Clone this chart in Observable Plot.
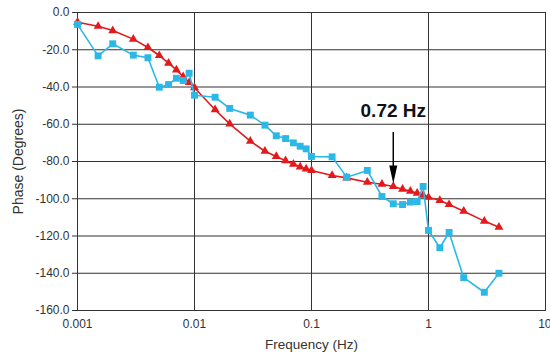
<!DOCTYPE html>
<html>
<head>
<meta charset="utf-8">
<script src="https://cdn.jsdelivr.net/npm/d3@7"></script>
<script src="https://cdn.jsdelivr.net/npm/@observablehq/plot@0.6"></script>
<style>
  html, body { margin: 0; padding: 0; background: #fff; }
</style>
</head>
<body>
<div id="chart"></div>
<script>
// Frequencies (Hz)
const freqs = [0.001, 0.0015, 0.002, 0.003, 0.004, 0.005, 0.006, 0.007, 0.008, 0.009,
  0.01, 0.015, 0.02, 0.03, 0.04, 0.05, 0.06, 0.07, 0.08, 0.09,
  0.1, 0.15, 0.2, 0.3, 0.4, 0.5, 0.6, 0.7, 0.8, 0.9,
  1, 1.25, 1.5, 2, 3, 4];
// Red series (triangles) phase in degrees
const redPhase = [-5.2, -7.4, -9.7, -14.3, -18.8, -23.1, -27.2, -30.8, -34.4, -37.6,
  -40.4, -52.2, -59.8, -69.1, -74.5, -77.3, -79.6, -81.4, -82.9, -84.0,
  -84.8, -87.5, -88.8, -91.1, -92.2, -93.4, -94.9, -95.9, -97.0, -98.1,
  -99.2, -100.9, -103.1, -106.7, -112.0, -115.3];
// Cyan series (squares) phase in degrees
const cyanPhase = [-6.4, -23.3, -16.8, -22.9, -24.3, -40.1, -38.7, -35.3, -36.5, -32.6,
  -44.4, -45.5, -51.5, -55.1, -60.5, -66.2, -67.7, -70.0, -71.8, -73.2,
  -77.3, -77.5, -88.4, -84.8, -98.8, -102.7, -103.1, -101.8, -101.5, -93.4,
  -117.0, -126.3, -118.1, -142.4, -150.2, -140.0];

const xTicks = [0.001, 0.01, 0.1, 1, 10];
const xTickLabels = ["0.001", "0.01", "0.1", "1", "10"];
const yTicks = [0, -20, -40, -60, -80, -100, -120, -140, -160];

// Annotation
const annoFreq = 0.5;
const annoLabel = "0.72 Hz";
const annoTextPhase = -53;
const arrowFrom = -64.4;
const arrowTo = -91.8;

const red = freqs.map((f, i) => ({f, p: redPhase[i]}));
const cyan = freqs.map((f, i) => ({f, p: cyanPhase[i]}));

const RED = "#e3191c";
const CYAN = "#2cb8e6";
const GRID = "#333";

// Downward-pointing narrow arrowhead with tip at the anchor point
const arrowHead = {
  draw(ctx, size) {
    ctx.moveTo(-4, -18);
    ctx.lineTo(4, -18);
    ctx.lineTo(0, 0);
    ctx.closePath();
  }
};

const fmtX = d => xTickLabels[xTicks.indexOf(d)];

const chart = Plot.plot({
  width: 550,
  height: 353,
  marginLeft: 77,
  marginRight: 5,
  marginTop: 12,
  marginBottom: 43,
  style: {fontFamily: "'Liberation Sans', Arial, sans-serif", fontSize: "12px", color: "#333", background: "#fff"},
  x: {type: "log", domain: [0.001, 10]},
  y: {domain: [-160, 0]},
  marks: [
    Plot.gridX(xTicks, {stroke: GRID, strokeOpacity: 1, strokeWidth: 1}),
    Plot.gridY(yTicks, {stroke: GRID, strokeOpacity: 1, strokeWidth: 1}),
    Plot.frame({stroke: GRID, strokeWidth: 1}),
    Plot.axisX(xTicks.slice(0, 4), {tickSize: 0, tickPadding: 9,
      tickFormat: fmtX,
      label: "Frequency (Hz)", labelAnchor: "center", labelArrow: "none", labelOffset: 38,
      fontSize: 12}),
    Plot.axisX(xTicks.slice(4), {tickSize: 0, tickPadding: 9, tickFormat: fmtX,
      textAnchor: "end", dx: 6, label: null, fontSize: 12}),
    Plot.axisY({ticks: yTicks, tickSize: 5, tickPadding: 3, stroke: GRID,
      tickFormat: d => d.toFixed(1),
      label: "Phase (Degrees)", labelAnchor: "center", labelArrow: "none", labelOffset: 64,
      fontSize: 12}),
    Plot.line(red, {x: "f", y: "p", stroke: RED, strokeWidth: 1.6}),
    Plot.dot(red, {x: "f", y: "p", symbol: "triangle", r: 3.3, fill: RED, stroke: null}),
    Plot.line(cyan, {x: "f", y: "p", stroke: CYAN, strokeWidth: 1.6}),
    Plot.dot(cyan, {x: "f", y: "p", symbol: "square", r: 3.9, fill: CYAN, stroke: null}),
    Plot.ruleX([annoFreq], {y1: arrowFrom, y2: arrowTo + 5, stroke: "#000", strokeWidth: 1.5}),
    Plot.dot([annoFreq], {x: d => d, y: arrowTo, symbol: arrowHead, fill: "#000", stroke: null}),
    Plot.text([annoLabel], {x: annoFreq, y: annoTextPhase, text: d => d, fontSize: 19, fontWeight: "bold", fill: "#111", textAnchor: "middle"})
  ]
});

// enlarge axis label fonts
chart.querySelectorAll("g[aria-label='x-axis label'] text").forEach(t => t.setAttribute("font-size", "13.5"));
chart.querySelectorAll("g[aria-label='y-axis label'] text").forEach(t => t.setAttribute("font-size", "14"));
document.getElementById("chart").appendChild(chart);
</script>
</body>
</html>
